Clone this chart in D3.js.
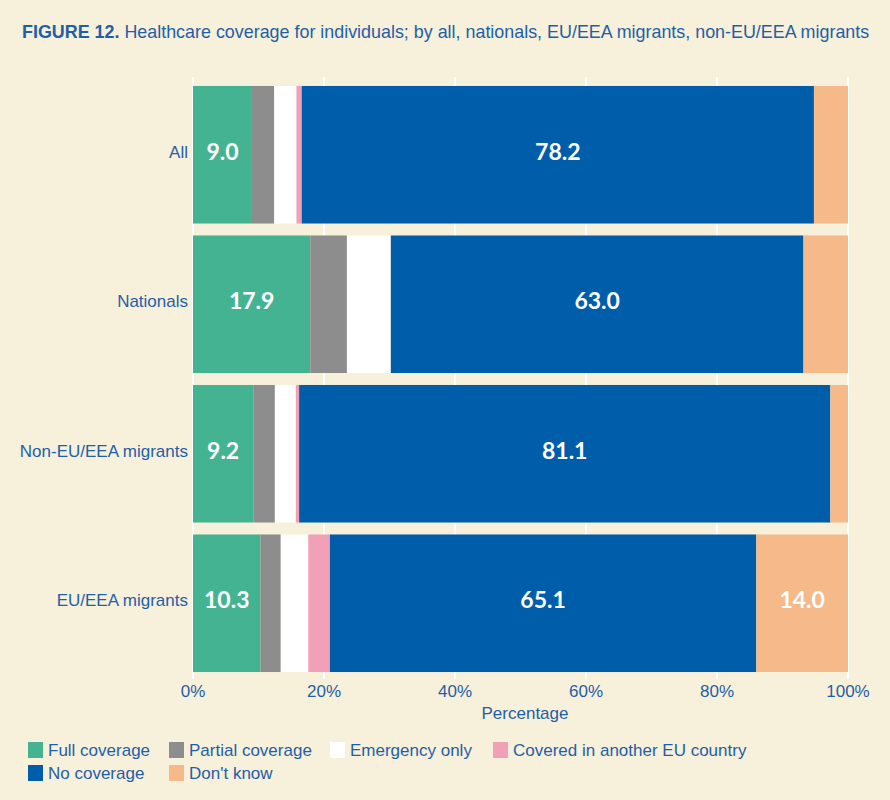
<!DOCTYPE html>
<html>
<head>
<meta charset="utf-8">
<script src="https://cdn.jsdelivr.net/npm/d3@7"></script>
<style>
  body { margin: 0; background: #f7f0da; }
  svg { display: block; }
</style>
</head>
<body>
<div id="chart"></div>
<script>
const width = 890;
const height = 800;

// data
const groups = ["All", "Nationals", "Non-EU/EEA migrants", "EU/EEA migrants"];
const seriesNames = ["Full coverage", "Partial coverage", "Emergency only", "Covered in another EU country", "No coverage", "Don't know"];
const fullCoverage = [9.0, 17.9, 9.2, 10.3];
const partialCoverage = [3.4, 5.6, 3.3, 3.1];
const emergencyOnly = [3.4, 6.7, 3.2, 4.2];
const coveredOtherEU = [0.8, 0.0, 0.5, 3.3];
const noCoverage = [78.2, 63.0, 81.1, 65.1];
const dontKnow = [5.2, 6.8, 2.7, 14.0];
const xTicks = [0, 20, 40, 60, 80, 100];
const colors = ["#43b391", "#8c8d8c", "#ffffff", "#f2a0b8", "#005daa", "#f6b989"];

const seriesValues = [fullCoverage, partialCoverage, emergencyOnly, coveredOtherEU, noCoverage, dontKnow];
const rows = groups.map((g, i) => {
  const r = { group: g };
  seriesNames.forEach((s, j) => r[s] = seriesValues[j][i]);
  return r;
});

const stacked = d3.stack().keys(seriesNames)(rows);

const xScale = d3.scaleLinear().domain([0, 100]).range([193, 848]);
const yScale = d3.scaleBand().domain(groups).range([80, 678]).paddingInner(0.08).paddingOuter(0.04);
const colorScale = d3.scaleOrdinal().domain(seriesNames).range(colors);

const textBlue = "#1f5fa8";
const sans = "'Liberation Sans', Arial, sans-serif";

const svg = d3.select("#chart").append("svg")
  .attr("width", width)
  .attr("height", height);

svg.append("rect").attr("width", width).attr("height", height).attr("fill", "#f7f0da");

// title
const title = svg.append("text")
  .attr("x", 22).attr("y", 38)
  .attr("fill", textBlue)
  .style("font-family", sans)
  .style("font-size", "17.9px");
title.append("tspan").attr("font-weight", "bold").text("FIGURE 12.");
title.append("tspan").text(" Healthcare coverage for individuals; by all, nationals, EU/EEA migrants, non-EU/EEA migrants");

// gridlines
svg.append("g").selectAll("line")
  .data(xTicks)
  .join("line")
  .attr("x1", d => xScale(d)).attr("x2", d => xScale(d))
  .attr("y1", 77).attr("y2", 679)
  .attr("stroke", "#ffffff")
  .attr("stroke-width", 2);

// bars
svg.append("g").selectAll("g")
  .data(stacked)
  .join("g")
  .attr("fill", d => colorScale(d.key))
  .selectAll("rect")
  .data(d => d)
  .join("rect")
  .attr("x", d => xScale(d[0]))
  .attr("y", d => yScale(d.data.group))
  .attr("width", d => xScale(d[1]) - xScale(d[0]))
  .attr("height", yScale.bandwidth());

// value labels
const labels = [];
stacked.forEach(s => s.forEach(d => {
  if (d[1] - d[0] >= 9) labels.push({ x: (d[0] + d[1]) / 2, group: d.data.group, v: d[1] - d[0] });
}));
svg.append("g").selectAll("text")
  .data(labels)
  .join("text")
  .attr("x", d => xScale(d.x))
  .attr("y", d => yScale(d.group) + yScale.bandwidth() / 2 - 3)
  .attr("dy", "0.35em")
  .attr("text-anchor", "middle")
  .attr("fill", "#ffffff")
  .attr("font-weight", "bold")
  .style("font-family", "Lato, 'Open Sans', sans-serif")
  .style("font-size", "23px")
  .text(d => d.v.toFixed(1));

// category labels
svg.append("g").selectAll("text")
  .data(groups)
  .join("text")
  .attr("x", 188)
  .attr("y", d => yScale(d) + yScale.bandwidth() / 2 - 3)
  .attr("dy", "0.35em")
  .attr("text-anchor", "end")
  .attr("fill", textBlue)
  .style("font-family", sans)
  .style("font-size", "17px")
  .text(d => d);

// x axis labels
svg.append("g").selectAll("text")
  .data(xTicks)
  .join("text")
  .attr("x", d => xScale(d))
  .attr("y", 697)
  .attr("text-anchor", "middle")
  .attr("fill", textBlue)
  .style("font-family", sans)
  .style("font-size", "17px")
  .text(d => d + "%");

svg.append("text")
  .attr("x", 525).attr("y", 719)
  .attr("text-anchor", "middle")
  .attr("fill", textBlue)
  .style("font-family", sans)
  .style("font-size", "17px")
  .text("Percentage");

// legend
const legendPos = [[28, 750], [169, 750], [330, 750], [493, 750], [28, 773], [169, 773]];
const legend = svg.append("g").selectAll("g")
  .data(seriesNames)
  .join("g")
  .attr("transform", (d, i) => `translate(${legendPos[i][0]},${legendPos[i][1]})`);
legend.append("rect")
  .attr("x", 0).attr("y", -8)
  .attr("width", 15).attr("height", 16)
  .attr("fill", d => colorScale(d));
legend.append("text")
  .attr("x", 20).attr("y", 0)
  .attr("dy", "0.35em")
  .attr("fill", textBlue)
  .style("font-family", sans)
  .style("font-size", "17px")
  .text(d => d);
</script>
</body>
</html>
